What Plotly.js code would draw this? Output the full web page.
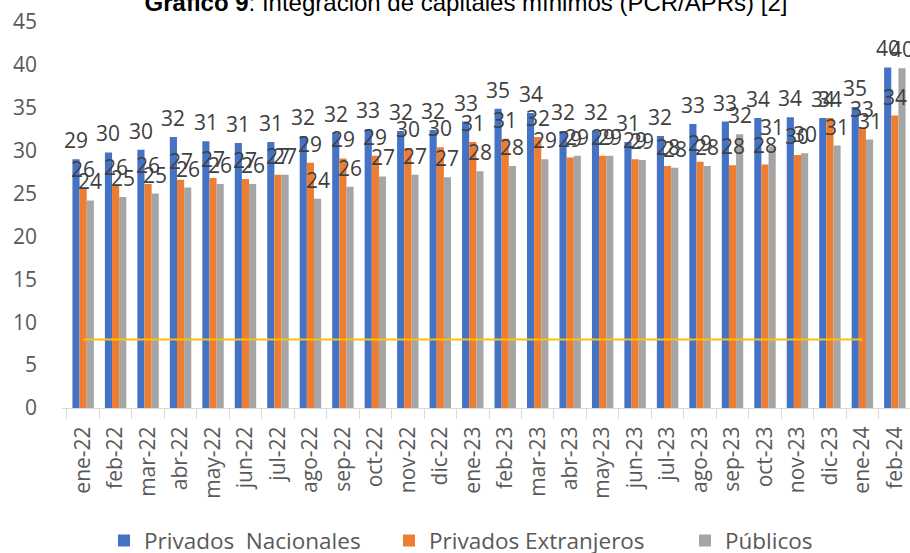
<!DOCTYPE html>
<html>
<head>
<meta charset="utf-8">
<script src="https://cdn.plot.ly/plotly-3.0.1.min.js"></script>
<style>
html,body{margin:0;padding:0;overflow:hidden;background:#fff;}
#chart{width:916px;height:553px;}
</style>
</head>
<body>
<div id="chart"></div>
<script>
var months = ["ene-22","feb-22","mar-22","abr-22","may-22","jun-22","jul-22","ago-22","sep-22","oct-22","nov-22","dic-22",
              "ene-23","feb-23","mar-23","abr-23","may-23","jun-23","jul-23","ago-23","sep-23","oct-23","nov-23","dic-23",
              "ene-24","feb-24"];
var privNac = [29.0,29.8,30.1,31.6,31.1,30.9,31.0,31.7,32.1,32.5,32.3,32.4,
               33.4,34.9,34.4,32.3,32.3,31.0,31.7,33.1,33.4,33.8,33.9,33.8,
               35.1,39.7];
var privExt = [25.6,25.9,26.1,26.6,26.8,26.7,27.2,28.6,29.1,29.4,30.3,30.4,
               31.0,31.4,31.6,29.2,29.4,29.0,28.2,28.7,28.3,28.4,29.5,33.8,
               32.7,34.1];
var publicos = [24.2,24.6,25.0,25.7,26.1,26.1,27.2,24.4,25.8,27.0,27.2,26.9,
                27.6,28.2,29.0,29.4,29.4,28.9,28.0,28.2,31.9,30.5,29.7,30.6,
                31.3,39.6];
var minimo = [8,8,8,8,8,8,8,8,8,8,8,8,8,8,8,8,8,8,8,8,8,8,8,8,8];
var seriesNames = ["Privados\u00a0 Nacionales", "Privados Extranjeros", "Públicos"];
var colors = ["#4472C4", "#ED7D31", "#A5A5A5"];

var FONT = "Open Sans, Noto Sans, sans-serif";
var bargap = 0.34;
var allSeries = [privNac, privExt, publicos];
var legendIds = ["legend", "legend2", "legend3"];
var legendLeftPx = [104, 389, 685];

var traces = allSeries.map(function(vals, k){
  return {
    type: "bar", x: months, y: vals, name: seriesNames[k],
    marker: {color: colors[k]}, hoverinfo: "skip", legend: legendIds[k]
  };
});
traces.push({
  type: "scatter", mode: "lines", x: months.slice(0, minimo.length), y: minimo,
  line: {color: "#FFC000", width: 2}, showlegend: false, hoverinfo: "skip"
});

// data labels via annotations, positioned from the data through the axes
var annotations = [];
var w = (1 - bargap) / 3;
allSeries.forEach(function(vals, k){
  vals.forEach(function(v, i){
    annotations.push({
      x: i + (k - 1) * w, y: v, xref: "x", yref: "y",
      text: String(Math.round(v)), showarrow: false,
      yanchor: "middle", yshift: 19,
      font: {family: FONT, size: 21, color: "#404040"}
    });
  });
});

var layout = {
  width: 916, height: 553,
  margin: {l: 62, r: 0, t: 22, b: 145},
  paper_bgcolor: "#fff", plot_bgcolor: "#fff",
  barmode: "group", bargap: bargap, bargroupgap: 0,
  title: {
    text: "<b>Gráfico 9</b>: Integración de capitales mínimos (PCR/APRs) [2]",
    font: {family: "Liberation Sans, Arial, sans-serif", size: 24, color: "#000"},
    x: 466/916, xanchor: "center", xref: "container",
    y: 0.996, yanchor: "middle", yref: "container"
  },
  xaxis: {
    type: "category", showline: true, linecolor: "#d9d9d9", linewidth: 1,
    ticks: "outside", tickson: "boundaries", ticklen: 10, tickcolor: "#d9d9d9",
    tickangle: -90, ticklabelstandoff: 9,
    tickfont: {family: FONT, size: 21, color: "#595959"},
    showgrid: false
  },
  yaxis: {
    range: [0, 45], dtick: 5, tick0: 0, showgrid: false, zeroline: false,
    showline: false, ticks: "", ticklabelstandoff: 24,
    tickfont: {family: FONT, size: 21, color: "#595959"}
  },
  annotations: annotations,
  showlegend: true
};
legendIds.forEach(function(id, k){
  layout[id] = {
    orientation: "h", x: (legendLeftPx[k] - 62) / 854, xanchor: "left",
    y: 0.022, yanchor: "middle", yref: "container",
    font: {family: FONT, size: 22.5, color: "#595959"},
    bgcolor: "rgba(0,0,0,0)"
  };
});

Plotly.newPlot("chart", traces, layout, {displayModeBar: false, staticPlot: true});
</script>
</body>
</html>
